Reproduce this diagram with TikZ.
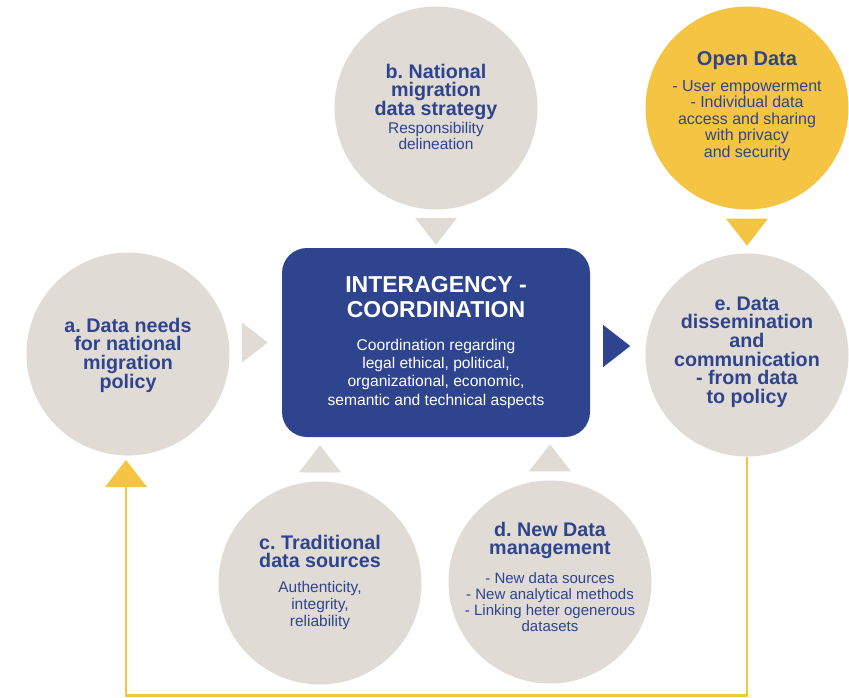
\documentclass[tikz,border=0pt]{standalone}
\usepackage{fontspec}
\setmainfont{Liberation Sans}
\usetikzlibrary{calc}
\frenchspacing
\definecolor{bubblegray}{RGB}{224,219,212}
\definecolor{iomblue}{RGB}{47,68,143}
\definecolor{iomyellow}{RGB}{245,196,66}
\newcommand{\headfont}{\fontsize{19.7}{18.6}\selectfont\bfseries}
\newcommand{\bodyfont}{\fontsize{15.5}{16.8}\selectfont}
\newcommand{\hubhead}{\fontsize{23}{25}\selectfont\bfseries}
\newcommand{\hubbody}{\fontsize{15.6}{18.3}\selectfont}
\tikzset{
      bubble/.style={circle, fill=bubblegray, minimum size=203pt, inner sep=0pt},
      openbubble/.style={bubble, fill=iomyellow},
      bubbletext/.style={text=iomblue, align=flush center, text width=185pt, inner sep=0pt},
      hub/.style={rectangle, rounded corners=25pt, fill=iomblue, text=white, align=flush center,
            text width=300pt, minimum width=308pt, minimum height=189pt, inner sep=0pt},
      pointer/.style={fill=bubblegray},
      bluepointer/.style={fill=iomblue},
      yellowpointer/.style={fill=iomyellow},
      feedback/.style={draw=iomyellow, line width=2.5pt},
}

\begin{document}
\begin{tikzpicture}[x=1pt, y=-1pt]
        \useasboundingbox (0,0) rectangle (849,697);

        % Draw the bubbles
        \node[bubble] (a) at (128,354) {};
        \node[bubble] (b) at (436,108) {};
        \node[openbubble] (open) at (747,108) {};
        \node[bubble] (e) at (747,355) {};
        \node[bubble] (c) at (320,583) {};
        \node[bubble] (d) at (550,582) {};

        \node[bubbletext] (a-txt) at ([yshift=-1pt]a.center)
              {{\headfont a. Data needs\\ for national\\ migration\\ policy\par}};
        \node[bubbletext] (b-txt) at ([yshift=1pt]b.center)
              {{\headfont b. National\\ migration\\ data strategy\par}\vspace{1pt}%
               {\bodyfont Responsibility\\ delineation\par}};
        \node[bubbletext] (open-txt) at ([yshift=2pt]open.center)
              {{\headfont\fontsize{20}{18.6}\selectfont Open Data\par}\vspace{9pt}%
               {\fontsize{16}{16.5}\selectfont - User empowerment\\ - Individual data\\ access and sharing\\ with privacy\\ and security\par}};
        \node[bubbletext] (e-txt) at ([yshift=3pt]e.center)
              {{\headfont e. Data\\ dissemination\\ and\\ communication\\ - from data\\ to policy\par}};
        \node[bubbletext] (c-txt) at ([yshift=1pt]c.center)
              {{\headfont c. Traditional\\ data sources\par}\vspace{8pt}%
               {\bodyfont Authenticity,\\ integrity,\\ reliability\par}};
        \node[bubbletext] (d-txt) at ([yshift=5pt]d.center)
              {{\headfont d. New Data\\ management\par}\vspace{12pt}%
               {\bodyfont\fontsize{15}{16.3}\selectfont - New data sources\\ - New analytical methods\\ - Linking heter ogenerous\\ datasets\par}};

        % Draw the hub
        \node[hub] (hub) at (436,342.5)
              {{\hubhead INTERAGENCY -\\ COORDINATION\par}\vspace{14pt}%
               {\hubbody Coordination regarding\\ legal ethical, political,\\ organizational, economic,\\ semantic and technical aspects\par}};

        % Draw the pointers
        \fill[pointer] ($(hub.west)+(-40,-20)$) -- ++(26,20) -- ++(-26,20) -- cycle;
        \fill[bluepointer] ($(hub.east)+(13,-17.5)$) -- ++(27,21) -- ++(-27,21) -- cycle;
        \fill[pointer] ($(hub.north)+(-21,-30)$) -- ++(42,0) -- ++(-21,27) -- cycle;
        \fill[pointer] ($(c.north)+(-21,-9)$) -- ++(42,0) -- ++(-21,-27) -- cycle;
        \fill[pointer] ($(d.north)+(-21,-9)$) -- ++(42,0) -- ++(-21,-27) -- cycle;
        \fill[yellowpointer] ($(open.south)+(-21,9)$) -- ++(42,0) -- ++(-21,27) -- cycle;

        % Feedback loop
        \coordinate (loop-end) at (126,487);
        \draw[feedback] (e.south) -- ++(0,239) -| (loop-end);
        \fill[yellowpointer] ($(loop-end)+(-21,0)$) -- ++(42,0) -- ++(-21,-27) -- cycle;

    \end{tikzpicture}
\end{document}
